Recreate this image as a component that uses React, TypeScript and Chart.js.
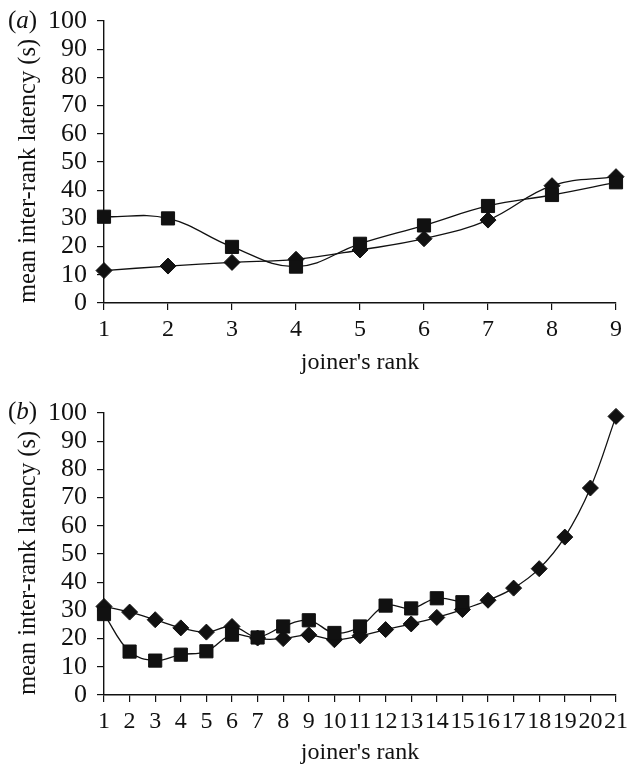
import React, { useEffect, useRef } from "react";
import { Chart, registerables } from "chart.js";

Chart.register(...registerables);

const FONT = "'Liberation Serif', 'Times New Roman', serif";

// Panel (a)
const ranksA = [1, 2, 3, 4, 5, 6, 7, 8, 9];
const squaresA = [30.6, 30.0, 19.9, 12.9, 21.0, 27.5, 34.4, 38.3, 42.8];
const diamondsA = [11.5, 13.1, 14.4, 15.5, 18.8, 22.8, 29.4, 41.6, 44.8];

// Panel (b)
const ranksB = [1, 2, 3, 4, 5, 6, 7, 8, 9, 10, 11, 12, 13, 14, 15, 16, 17, 18, 19, 20, 21];
const squaresB = [28.7, 15.4, 12.2, 14.3, 15.5, 21.4, 20.4, 24.3, 26.5, 22.0, 24.3, 31.7, 30.7, 34.3, 32.9];
const diamondsB = [31.4, 29.4, 26.7, 23.8, 22.3, 24.3, 20.2, 20.0, 21.3, 19.6, 21.0, 23.2, 25.2, 27.5, 30.3, 33.6, 37.9, 44.8, 56.0, 73.4, 98.8];

const yMin = 0;
const yMax = 100;
const yStep = 10;
const xTitle = "joiner's rank";
const yTitle = "mean inter-rank latency (s)";

type PanelProps = {
  ranks: number[];
  squares: number[];
  diamonds: number[];
  width: number;
  height: number;
  padTop: number;
  xAxisHeight: number;
  xTitlePadBottom: number;
};

function Panel({ ranks, squares, diamonds, width, height, padTop, xAxisHeight, xTitlePadBottom }: PanelProps) {
  const ref = useRef<HTMLCanvasElement | null>(null);
  useEffect(() => {
    if (!ref.current) return;
    const toPts = (vals: number[]) => vals.map((v, i) => ({ x: ranks[i], y: v }));
    const chart = new Chart(ref.current, {
      type: "line",
      data: {
        datasets: [
          {
            data: toPts(squares),
            borderColor: "#111",
            backgroundColor: "#111",
            borderWidth: 1.3,
            pointStyle: "rect",
            pointRadius: 9.3,
            pointBorderWidth: 1,
            tension: 0.4,
            clip: false as any,
          },
          {
            data: toPts(diamonds),
            borderColor: "#111",
            backgroundColor: "#111",
            borderWidth: 1.3,
            pointStyle: "rectRot",
            pointRadius: 8,
            pointBorderWidth: 1,
            tension: 0.4,
            clip: false as any,
          },
        ],
      },
      options: {
        animation: false,
        responsive: false,
        devicePixelRatio: 1,
        layout: { padding: { left: 0, right: 11, top: padTop, bottom: 0 } },
        plugins: { legend: { display: false }, tooltip: { enabled: false } },
        scales: {
          x: {
            type: "linear",
            min: ranks[0],
            max: ranks[ranks.length - 1],
            ticks: {
              stepSize: 1,
              autoSkip: false,
              maxRotation: 0,
              minRotation: 0,
              color: "#111",
              padding: 5,
              font: { family: FONT, size: 24 },
            },
            grid: {
              display: true,
              drawOnChartArea: false,
              drawTicks: true,
              tickLength: 7,
              color: "#111",
              lineWidth: 1.2,
            },
            border: { display: true, color: "#111", width: 1.4 },
            title: {
              display: true,
              text: xTitle,
              color: "#111",
              font: { family: FONT, size: 24 },
              padding: { top: 0, bottom: xTitlePadBottom },
            },
            afterFit: (s: any) => {
              s.height = xAxisHeight;
              s.paddingLeft = 0;
              s.paddingRight = 0;
            },
          },
          y: {
            type: "linear",
            min: yMin,
            max: yMax,
            ticks: {
              stepSize: yStep,
              autoSkip: false,
              color: "#111",
              padding: 10,
              font: { family: FONT, size: 26 },
            },
            grid: {
              display: true,
              drawOnChartArea: false,
              drawTicks: true,
              tickLength: 7,
              color: "#111",
              lineWidth: 1.2,
            },
            border: { display: true, color: "#111", width: 1.4 },
            title: {
              display: true,
              text: yTitle,
              align: "start",
              color: "#111",
              font: { family: FONT, size: 24.5 },
              padding: { top: 14, bottom: 0 },
            },
            afterFit: (s: any) => {
              s.width = 104;
              s.paddingTop = 0;
              s.paddingBottom = 0;
            },
          },
        },
      },
    });
    return () => chart.destroy();
  }, []);
  return <canvas ref={ref} width={width} height={height} style={{ display: "block" }} />;
}

const labelStyle: React.CSSProperties = {
  position: "absolute",
  left: 8,
  fontFamily: FONT,
  fontSize: 25,
  lineHeight: "30px",
  color: "#111",
};

export default function App() {
  return (
    <div style={{ position: "absolute", left: 0, top: 0, width: 627, height: 765, background: "#fff", overflow: "hidden" }}>
      <div style={{ position: "absolute", left: 0, top: 0 }}>
        <Panel ranks={ranksA} squares={squaresA} diamonds={diamondsA} width={627} height={378} padTop={21} xAxisHeight={75} xTitlePadBottom={1} />
      </div>
      <span style={{ ...labelStyle, top: 5 }}>
        (<i>a</i>)
      </span>
      <div style={{ position: "absolute", left: 0, top: 380 }}>
        <Panel ranks={ranksB} squares={squaresB} diamonds={diamondsB} width={627} height={385} padTop={33} xAxisHeight={70} xTitlePadBottom={-2} />
      </div>
      <span style={{ ...labelStyle, top: 396 }}>
        (<i>b</i>)
      </span>
    </div>
  );
}
